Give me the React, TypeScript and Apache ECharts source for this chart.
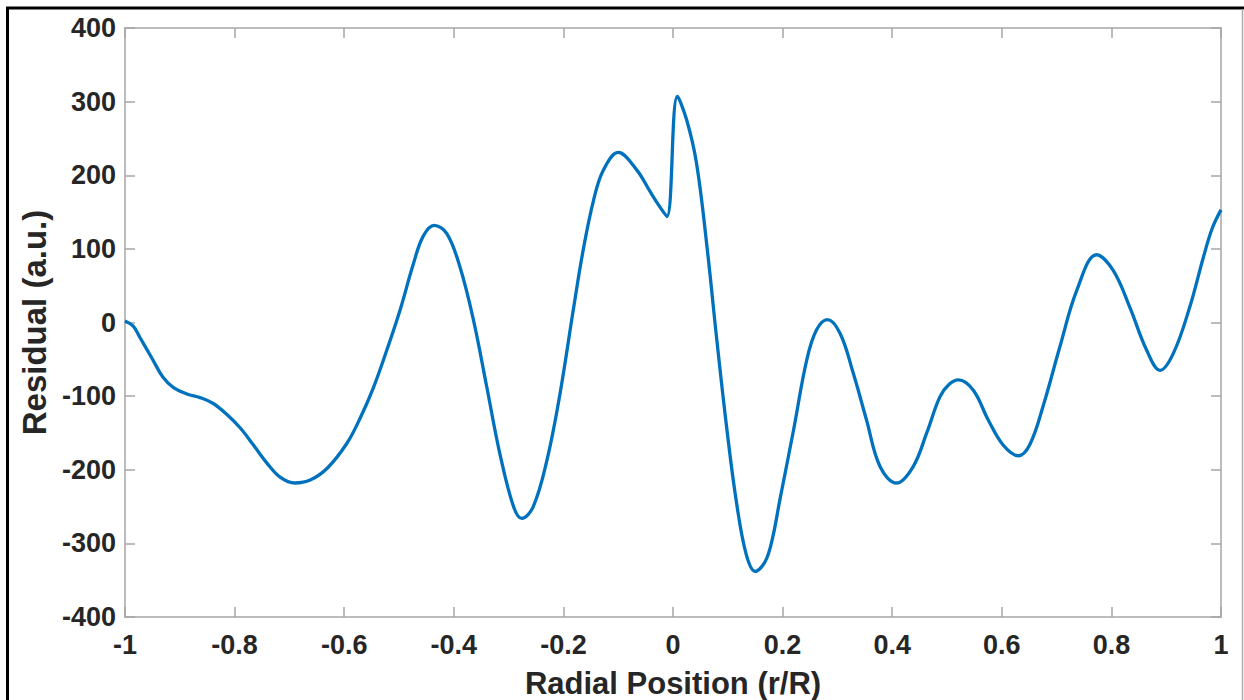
import React, { useEffect, useRef } from "react";
import * as echarts from "echarts";

const radialPos: number[] = [
  -1.0, -0.985, -0.973, -0.949, -0.931, -0.912, -0.887, -0.863, -0.839, -0.814,
  -0.79, -0.766, -0.741, -0.717, -0.69, -0.662, -0.631, -0.595, -0.571, -0.547,
  -0.522, -0.498, -0.474, -0.456, -0.436, -0.413, -0.389, -0.364, -0.34, -0.316,
  -0.291, -0.276, -0.255, -0.23, -0.206, -0.182, -0.164, -0.145, -0.127, -0.1,
  -0.066, -0.042, -0.024, -0.011, 0.008, 0.025, 0.043, 0.062, 0.08, 0.098,
  0.116, 0.134, 0.15, 0.168, 0.181, 0.195, 0.22, 0.244, 0.262, 0.282,
  0.305, 0.329, 0.353, 0.378, 0.408, 0.438, 0.463, 0.487, 0.504, 0.521, 0.548,
  0.575, 0.602, 0.63, 0.651, 0.676, 0.706, 0.737, 0.773, 0.803, 0.834,
  0.864, 0.889, 0.913, 0.943, 0.968, 0.984, 1.0,
];

const residual: number[] = [
  2, -5, -20, -51, -74, -88, -97, -102, -110, -125,
  -143, -166, -191, -210, -218, -214, -198, -164, -130, -89,
  -37, 17, 79, 117, 132, 121, 76, 3, -87, -178,
  -250, -266, -250, -187, -96, 17, 98, 166, 207, 231,
  207, 178, 157, 144, 307, 275, 216, 103, -24, -143,
  -245, -316, -338, -325, -295, -241, -146, -51, -10, 4,
  -15, -69, -132, -196, -218, -196, -150, -101, -84, -78, -92,
  -132, -166, -181, -166, -112, -33, 44, 92, 71, 20,
  -37, -65, -42, 21, 89, 128, 153,
];

const xTicks: number[] = [-1, -0.8, -0.6, -0.4, -0.2, 0, 0.2, 0.4, 0.6, 0.8, 1];
const yTicks: number[] = [-400, -300, -200, -100, 0, 100, 200, 300, 400];

const xTitle = "Radial Position (r/R)";
const yTitle = "Residual (a.u.)";

export default function App() {
  const ref = useRef<HTMLDivElement>(null);

  useEffect(() => {
    if (!ref.current) return;
    const chart = echarts.init(ref.current, null, { renderer: "svg" });
    const axisColor = "#a6a6a6";
    const textColor = "#262626";
    const font = "'Liberation Sans', Arial, Helvetica, sans-serif";
    const fmtX = (v: number) => {
      const r = Math.round(v * 10) / 10;
      return xTicks.some((t) => Math.abs(t - r) < 1e-9) ? String(r) : "";
    };
    const fmtY = (v: number) => (yTicks.includes(Math.round(v)) ? String(Math.round(v)) : "");
    chart.setOption({
      animation: false,
      backgroundColor: "#ffffff",
      grid: { left: 125, right: 23, top: 28, bottom: 83, containLabel: false, outerBoundsMode: "none" },
      xAxis: [
        {
          type: "value",
          min: -1,
          max: 1,
          interval: 0.2,
          position: "bottom",
          name: xTitle,
          nameLocation: "middle",
          nameGap: 51,
          nameTextStyle: { color: textColor, fontSize: 31, fontWeight: "bold", fontFamily: font },
          axisLine: { show: true, onZero: false, lineStyle: { color: axisColor, width: 1.5 } },
          axisTick: { show: true, inside: true, length: 10, lineStyle: { color: axisColor, width: 1.5 } },
          axisLabel: { color: textColor, fontSize: 27, fontWeight: "bold", fontFamily: font, margin: 14, formatter: fmtX },
          splitLine: { show: false },
        },
        {
          type: "value",
          min: -1,
          max: 1,
          interval: 0.2,
          position: "top",
          axisLine: { show: true, onZero: false, lineStyle: { color: axisColor, width: 1.5 } },
          axisTick: { show: true, inside: true, length: 10, lineStyle: { color: axisColor, width: 1.5 } },
          axisLabel: { show: false },
          splitLine: { show: false },
        },
      ],
      yAxis: [
        {
          type: "value",
          min: -400,
          max: 400,
          interval: 100,
          position: "left",
          name: yTitle,
          nameLocation: "middle",
          nameGap: 70,
          nameRotate: 90,
          nameTextStyle: { color: textColor, fontSize: 33, fontWeight: "bold", fontFamily: font },
          axisLine: { show: true, onZero: false, lineStyle: { color: axisColor, width: 1.5 } },
          axisTick: { show: true, inside: true, length: 10, lineStyle: { color: axisColor, width: 1.5 } },
          axisLabel: { color: textColor, fontSize: 27, fontWeight: "bold", fontFamily: font, margin: 9, formatter: fmtY },
          splitLine: { show: false },
        },
        {
          type: "value",
          min: -400,
          max: 400,
          interval: 100,
          position: "right",
          axisLine: { show: true, onZero: false, lineStyle: { color: axisColor, width: 1.5 } },
          axisTick: { show: true, inside: true, length: 10, lineStyle: { color: axisColor, width: 1.5 } },
          axisLabel: { show: false },
          splitLine: { show: false },
        },
      ],
      graphic: [
        { type: "line", shape: { x1: 7.5, y1: 8, x2: 7.5, y2: 700 }, style: { stroke: "#000", lineWidth: 3 }, silent: true },
        { type: "line", shape: { x1: 6, y1: 8, x2: 1244, y2: 8 }, style: { stroke: "#000", lineWidth: 3 }, silent: true },
        { type: "line", shape: { x1: 1242.5, y1: 9, x2: 1242.5, y2: 700 }, style: { stroke: "#aaaaaa", lineWidth: 1.5 }, silent: true },
      ],
      series: [
        {
          type: "line",
          xAxisIndex: 0,
          yAxisIndex: 0,
          data: radialPos.map((x, i) => [x, residual[i]]),
          showSymbol: false,
          smooth: 0.38,
          lineStyle: { color: "#0072BD", width: 3.3 },
          clip: true,
        },
      ],
    });
    return () => chart.dispose();
  }, []);

  return (
    <div
      ref={ref}
      style={{ position: "fixed", left: 0, top: 0, width: 1244, height: 700, background: "#fff" }}
    />
  );
}
